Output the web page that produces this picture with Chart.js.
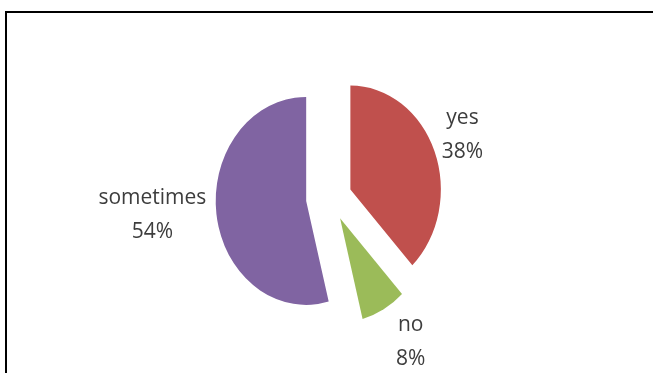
<!DOCTYPE html>
<html>
<head>
<meta charset="utf-8">
<script src="https://cdn.jsdelivr.net/npm/chart.js@4"></script>
<style>
  body { margin: 0; background: #fff; }
  #wrap { position: relative; width: 653px; height: 373px; }
  #frame { position: absolute; left: 5px; top: 11px; right: 0; bottom: 0;
           border-top: 2px solid #000; border-left: 2px solid #000; }
</style>
</head>
<body>
<div id="wrap">
  <div id="frame"></div>
  <canvas id="answerPie"></canvas>
</div>
<script>
const labels = ["yes", "no", "sometimes"];
const values = [38, 8, 54];
const colors = ["#C0504D", "#9BBB59", "#8064A2"];

// where each label sits, relative to the outer middle of its slice
const labelNudge = [[28, -16], [27, 33], [-64, 1]];

// chart.js' own offset also grows small slices, so push every slice out the same way instead.
// the original pie is a bit narrower than tall, so squeeze it sideways too
class ExplodedPie extends Chart.PieController {
  draw() {
    const ctx = this.chart.ctx;
    const ds = this.getDataset();
    const dist = ds.explode || 0;
    const sx = ds.squeeze || 1;
    this._cachedMeta.data.forEach(arc => {
      if (arc.hidden) return;
      const mid = (arc.startAngle + arc.endAngle) / 2;
      ctx.save();
      ctx.translate(Math.cos(mid) * dist, Math.sin(mid) * dist);
      ctx.translate(arc.x, arc.y);
      ctx.scale(sx, 1);
      ctx.translate(-arc.x, -arc.y);
      arc.draw(ctx, this.chart.chartArea);
      ctx.restore();
    });
  }
}
ExplodedPie.id = 'explodedPie';
Chart.register(ExplodedPie);

const sliceLabels = {
  id: 'sliceLabels',
  afterDatasetsDraw(chart) {
    const c = chart.ctx;
    const meta = chart.getDatasetMeta(0);
    const ds = chart.data.datasets[0];
    const dist = ds.explode || 0;
    const sx = ds.squeeze || 1;
    const total = values.reduce((a, b) => a + b, 0);
    c.save();
    c.font = '21px "Open Sans"';
    c.fillStyle = '#3d3d3d';
    c.textAlign = 'center';
    c.textBaseline = 'middle';
    meta.data.forEach((arc, i) => {
      const p = arc.getProps(['x', 'y', 'startAngle', 'endAngle', 'outerRadius']);
      const mid = (p.startAngle + p.endAngle) / 2;
      const x = p.x + Math.cos(mid) * (p.outerRadius * sx + dist) + labelNudge[i][0];
      const y = p.y + Math.sin(mid) * (p.outerRadius + dist) + labelNudge[i][1];
      const pct = Math.round(values[i] * 100 / total) + '%';
      c.fillText(labels[i], x, y - 17);
      c.fillText(pct, x, y + 17);
    });
    c.restore();
  }
};

new Chart(document.getElementById('answerPie'), {
  type: 'explodedPie',
  data: {
    labels: labels,
    datasets: [{
      data: values,
      backgroundColor: colors,
      borderWidth: 0,
      explode: 23,
      squeeze: 0.87,
      clip: false
    }]
  },
  options: {
    responsive: true,
    maintainAspectRatio: false,
    animation: false,
    layout: { padding: { left: 225, right: 220, top: 94, bottom: 71 } },
    plugins: {
      legend: { display: false },
      tooltip: { enabled: false }
    }
  },
  plugins: [sliceLabels]
});
</script>
</body>
</html>
